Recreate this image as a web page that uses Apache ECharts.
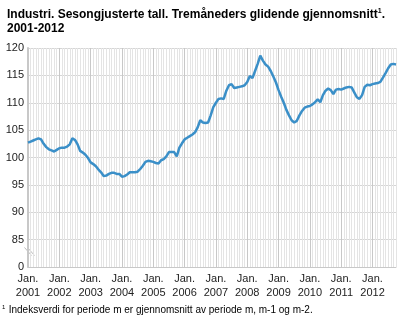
<!DOCTYPE html>
<html>
<head>
<meta charset="utf-8">
<script src="https://cdn.jsdelivr.net/npm/echarts@6/dist/echarts.min.js"></script>
<style>
  html, body { margin: 0; padding: 0; background: #fff; }
  #chart { width: 400px; height: 320px; }
</style>
</head>
<body>
<div id="chart"></div>
<script>
// monthly index values, 3-month moving average
const y2001 = [102.7, 102.9, 103.1, 103.3, 103.5, 103.3, 102.5, 101.9, 101.5, 101.3, 101.1, 101.4];
const y2002 = [101.7, 101.8, 101.8, 102.0, 102.4, 103.5, 103.2, 102.4, 101.2, 100.9, 100.5, 99.9];
const y2003 = [99.1, 98.8, 98.4, 97.8, 97.3, 96.6, 96.7, 97.0, 97.2, 97.2, 97.0, 97.0];
const y2004 = [96.5, 96.6, 96.9, 97.3, 97.3, 97.3, 97.4, 97.9, 98.5, 99.2, 99.4, 99.3];
const y2005 = [99.2, 99.0, 98.9, 99.5, 99.7, 100.2, 101.0, 101.0, 101.0, 100.2, 101.8, 102.6];
const y2006 = [103.3, 103.6, 103.9, 104.2, 104.6, 105.5, 106.8, 106.4, 106.3, 106.4, 107.7, 109.2];
const y2007 = [110.0, 110.7, 110.8, 110.7, 112.2, 113.2, 113.4, 112.7, 112.8, 112.9, 113.0, 113.2];
const y2008 = [113.8, 114.9, 114.5, 115.8, 117.1, 118.6, 117.7, 117.0, 116.6, 115.8, 114.8, 113.7];
const y2009 = [112.3, 111.1, 110.0, 108.7, 107.7, 106.8, 106.4, 106.7, 107.7, 108.5, 109.1, 109.3];
const y2010 = [109.4, 109.7, 110.1, 110.6, 110.1, 111.4, 112.2, 112.6, 112.3, 111.6, 112.4, 112.5];
const y2011 = [112.4, 112.6, 112.8, 112.9, 112.8, 111.9, 111.0, 110.7, 111.4, 112.9, 113.3, 113.2];
const y2012 = [113.4, 113.5, 113.6, 113.8, 114.6, 115.4, 116.3, 117.0, 117.1, 117.0];

const years = [2001, 2002, 2003, 2004, 2005, 2006, 2007, 2008, 2009, 2010, 2011, 2012];
const yearValues = [y2001, y2002, y2003, y2004, y2005, y2006, y2007, y2008, y2009, y2010, y2011, y2012];
const yTicks = [80, 85, 90, 95, 100, 105, 110, 115, 120];

const categories = [];
const values = [];
years.forEach((yr, i) => {
  yearValues[i].forEach((v, m) => {
    categories.push(m === 0 ? 'Jan.\n' + yr : yr + '-' + (m + 1));
    values.push(v);
  });
});

const gridColors = ['#c8c8c8'].concat(new Array(11).fill('#e4e4e4'));

const myChart = echarts.init(document.getElementById('chart'));
const option = {
  animation: false,
  textStyle: { fontFamily: 'Liberation Sans, Arial, sans-serif' },
  title: {
    left: 2,
    top: 3,
    text: '{t|Industri. Sesongjusterte tall. Tremåneders glidende gjennomsnitt}{s|1}{t|.}\n{t|2001-2012}',
    textStyle: {
      rich: {
        t: { fontSize: 12, fontWeight: 'bold', color: '#000', fontFamily: 'Liberation Sans, Arial', lineHeight: 14 },
        s: { fontSize: 7, fontWeight: 'bold', color: '#000', fontFamily: 'Liberation Sans, Arial', verticalAlign: 'top', lineHeight: 14, padding: [0, 0, 6, 0] }
      }
    }
  },
  grid: { left: 28, right: 4, top: 48, bottom: 53 },
  xAxis: {
    type: 'category',
    data: categories,
    boundaryGap: false,
    axisLine: { lineStyle: { color: '#c8c8c8', width: 1 } },
    axisTick: { show: false },
    axisLabel: {
      interval: (idx) => idx % 12 === 0,
      color: '#222',
      fontSize: 11,
      lineHeight: 14,
      margin: 5,
      formatter: (v) => v
    },
    splitLine: {
      show: true,
      interval: 0,
      lineStyle: { color: gridColors, width: 1 }
    }
  },
  yAxis: {
    type: 'value',
    min: yTicks[0],
    max: yTicks[yTicks.length - 1],
    interval: 5,
    axisLine: { show: true, lineStyle: { color: '#c8c8c8', width: 2 } },
    axisTick: { show: false },
    axisLabel: {
      color: '#222',
      fontSize: 11,
      margin: 4,
      formatter: (v) => (v === 80 ? '0' : String(v))
    },
    splitLine: { lineStyle: { color: '#d6d6d6', width: 1 } }
  },
  graphic: [
    {
      type: 'group',
      left: 22,
      top: 245,
      children: [
        { type: 'polygon', shape: { points: [[0, 0], [3, 0], [10, 8], [7, 8]] }, style: { fill: '#fff' } },
        { type: 'line', shape: { x1: 0, y1: 0, x2: 7, y2: 8 }, style: { stroke: '#bbb', lineWidth: 1 } },
        { type: 'line', shape: { x1: 3, y1: 0, x2: 10, y2: 8 }, style: { stroke: '#bbb', lineWidth: 1 } }
      ]
    },
    {
      type: 'text',
      left: 2,
      top: 304,
      style: {
        text: '{s|1} {t|Indeksverdi for periode m er gjennomsnitt av periode m, m-1 og m-2.}',
        rich: {
          t: { fontSize: 10, fill: '#000', fontFamily: 'Liberation Sans, Arial' },
          s: { fontSize: 6, fill: '#000', fontFamily: 'Liberation Sans, Arial', verticalAlign: 'top', padding: [0, 0, 5, 0] }
        }
      }
    }
  ],
  series: [
    {
      type: 'line',
      data: values,
      symbol: 'none',
      smooth: false,
      lineStyle: { color: '#3a8fc8', width: 2.5 }
    }
  ]
};
myChart.setOption(option);
</script>
</body>
</html>
